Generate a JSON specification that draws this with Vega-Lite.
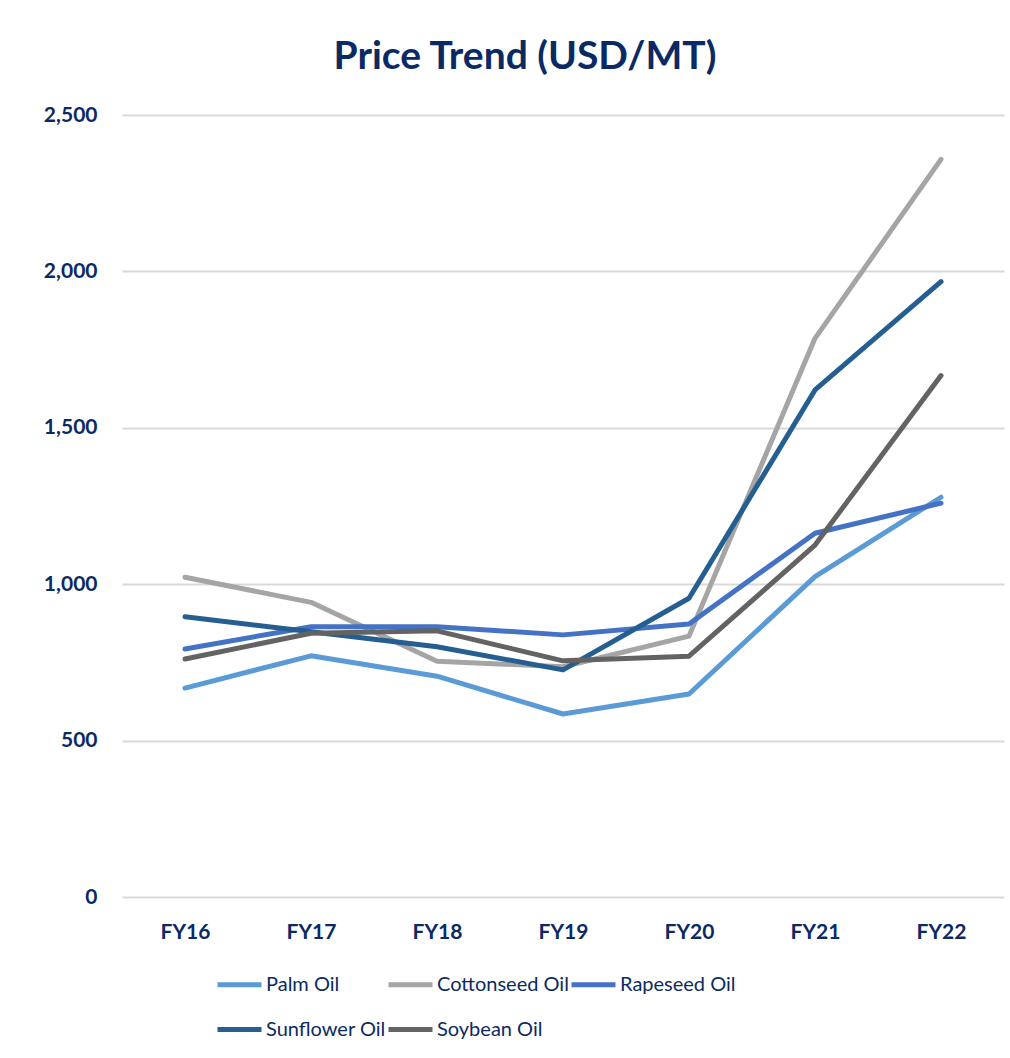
{
  "$schema": "https://vega.github.io/schema/vega-lite/v6.json",
  "width": 882,
  "height": 782,
  "autosize": {"type": "none"},
  "padding": {"left": 122, "top": 115, "right": 6, "bottom": 161},
  "background": "white",
  "title": {
    "text": "Price Trend (USD/MT)",
    "fontSize": 39,
    "font": "Lato",
    "fontWeight": "bold",
    "color": "#0B2A63",
    "anchor": "middle",
    "dx": -38,
    "offset": 27
  },
  "data": {
    "values": [
      {"year": "FY16", "oil": "Palm Oil", "price": 668},
      {"year": "FY17", "oil": "Palm Oil", "price": 771},
      {"year": "FY18", "oil": "Palm Oil", "price": 706},
      {"year": "FY19", "oil": "Palm Oil", "price": 585},
      {"year": "FY20", "oil": "Palm Oil", "price": 649},
      {"year": "FY21", "oil": "Palm Oil", "price": 1024},
      {"year": "FY22", "oil": "Palm Oil", "price": 1278},
      {"year": "FY16", "oil": "Cottonseed Oil", "price": 1022},
      {"year": "FY17", "oil": "Cottonseed Oil", "price": 942},
      {"year": "FY18", "oil": "Cottonseed Oil", "price": 754},
      {"year": "FY19", "oil": "Cottonseed Oil", "price": 736},
      {"year": "FY20", "oil": "Cottonseed Oil", "price": 834},
      {"year": "FY21", "oil": "Cottonseed Oil", "price": 1786},
      {"year": "FY22", "oil": "Cottonseed Oil", "price": 2358},
      {"year": "FY16", "oil": "Rapeseed Oil", "price": 793},
      {"year": "FY17", "oil": "Rapeseed Oil", "price": 864},
      {"year": "FY18", "oil": "Rapeseed Oil", "price": 864},
      {"year": "FY19", "oil": "Rapeseed Oil", "price": 838},
      {"year": "FY20", "oil": "Rapeseed Oil", "price": 873},
      {"year": "FY21", "oil": "Rapeseed Oil", "price": 1163},
      {"year": "FY22", "oil": "Rapeseed Oil", "price": 1259},
      {"year": "FY16", "oil": "Sunflower Oil", "price": 896},
      {"year": "FY17", "oil": "Sunflower Oil", "price": 848},
      {"year": "FY18", "oil": "Sunflower Oil", "price": 800},
      {"year": "FY19", "oil": "Sunflower Oil", "price": 726},
      {"year": "FY20", "oil": "Sunflower Oil", "price": 955},
      {"year": "FY21", "oil": "Sunflower Oil", "price": 1621},
      {"year": "FY22", "oil": "Sunflower Oil", "price": 1967},
      {"year": "FY16", "oil": "Soybean Oil", "price": 761},
      {"year": "FY17", "oil": "Soybean Oil", "price": 843},
      {"year": "FY18", "oil": "Soybean Oil", "price": 851},
      {"year": "FY19", "oil": "Soybean Oil", "price": 755},
      {"year": "FY20", "oil": "Soybean Oil", "price": 770},
      {"year": "FY21", "oil": "Soybean Oil", "price": 1125},
      {"year": "FY22", "oil": "Soybean Oil", "price": 1667}
    ]
  },
  "mark": {"type": "line", "strokeWidth": 5, "strokeCap": "round", "strokeJoin": "round"},
  "encoding": {
    "x": {
      "field": "year",
      "type": "ordinal",
      "scale": {"type": "point", "padding": 0.5},
      "axis": {
        "title": null,
        "labelAngle": 0,
        "labelFont": "Lato",
        "labelFontSize": 21,
        "labelFontWeight": "bold",
        "labelColor": "#0B2A63",
        "labelPadding": 24,
        "ticks": false,
        "domain": false,
        "grid": false
      }
    },
    "y": {
      "field": "price",
      "type": "quantitative",
      "scale": {"domain": [0, 2500], "nice": false},
      "axis": {
        "title": null,
        "values": [0, 500, 1000, 1500, 2000, 2500],
        "format": ",d",
        "labelFont": "Lato",
        "labelFontSize": 21,
        "labelFontWeight": "bold",
        "labelColor": "#0B2A63",
        "labelPadding": 25,
        "ticks": false,
        "domain": false,
        "grid": true,
        "gridColor": "#D9D9D9",
        "gridWidth": 2
      }
    },
    "color": {
      "field": "oil",
      "type": "nominal",
      "scale": {
        "domain": ["Palm Oil", "Cottonseed Oil", "Rapeseed Oil", "Sunflower Oil", "Soybean Oil"],
        "range": ["#5B9BD5", "#A5A5A5", "#4472C4", "#255E91", "#636363"]
      },
      "legend": {
        "title": null,
        "orient": "none",
        "legendX": 93,
        "legendY": 845,
        "direction": "horizontal",
        "columns": 3,
        "columnPadding": -20,
        "rowPadding": 10,
        "symbolType": "stroke",
        "symbolSize": 1936,
        "symbolStrokeWidth": 5,
        "labelFont": "Lato",
        "labelFontSize": 20,
        "labelColor": "#0B2A63",
        "labelOffset": 2,
        "labelLimit": 300
      }
    }
  },
  "config": {"view": {"stroke": null}}
}
